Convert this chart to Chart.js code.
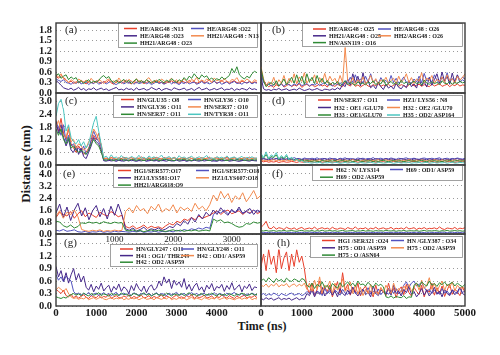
<!DOCTYPE html>
<html><head><meta charset="utf-8">
<script src="https://cdn.jsdelivr.net/npm/chart.js@4"></script>
<style>
body{margin:0;background:#fff;}
#wrap{position:relative;width:500px;height:355px;overflow:hidden;background:#fff;}
#wrap canvas{position:absolute;}
.ttl{position:absolute;font-family:"Liberation Serif",serif;font-weight:bold;color:#1a1a1a;white-space:nowrap;text-align:center;}
</style></head><body>
<div id="wrap">
<div class="ttl" style="left:-34px;top:156px;width:120px;font-size:13px;transform:rotate(-90deg);">Distance (nm)</div>
<div class="ttl" style="left:212px;top:319px;width:100px;font-size:12px;">Time (ns)</div>
</div>
<script>
const timeStepNs = 62.5;
const RED='#e8402c', BLUE='#5252bf', PURPLE='#46288a', ORANGE='#f38a4e', GREEN='#2f8a35', TEAL='#4cc6c0';

// ---------- panel (a)
const aLabels = ['HE/ARG48 :N13','HE/ARG48 :O22','HE/ARG48 :O23','HH21/ARG48 : N13','HH21/ARG48 : O23'];
const aRed = [0.48,0.42,0.50,0.44,0.38,0.30,0.34,0.27,0.32,0.29,0.36,0.31,0.26,0.33,0.30,0.28,0.35,0.31,0.27,0.33,
0.30,0.36,0.29,0.25,0.32,0.34,0.28,0.31,0.37,0.30,0.26,0.33,0.29,0.35,0.31,0.27,0.30,0.34,0.28,0.32,
0.36,0.29,0.31,0.26,0.33,0.30,0.35,0.28,0.32,0.27,0.34,0.31,0.29,0.36,0.30,0.33,0.27,0.31,0.35,0.29,
0.32,0.38,0.30,0.34,0.28,0.31,0.36,0.29,0.33,0.27,0.32,0.35,0.30,0.28,0.34,0.31,0.29,0.33,0.27,0.32,0.30];
const aBlue = [0.40,0.36,0.33,0.38,0.30,0.28,0.25,0.31,0.27,0.33,0.26,0.29,0.32,0.24,0.30,0.27,0.33,0.25,0.29,0.31,
0.26,0.30,0.34,0.27,0.24,0.29,0.32,0.26,0.30,0.28,0.33,0.25,0.31,0.27,0.29,0.34,0.26,0.30,0.24,0.28,
0.32,0.27,0.30,0.25,0.29,0.33,0.26,0.31,0.28,0.24,0.30,0.27,0.32,0.26,0.29,0.31,0.25,0.28,0.33,0.27,
0.30,0.26,0.29,0.34,0.27,0.31,0.25,0.28,0.32,0.26,0.30,0.33,0.27,0.29,0.25,0.31,0.28,0.32,0.26,0.30,0.28];
const aPurple = [0.35,0.30,0.22,0.15,0.12,0.10,0.14,0.08,0.11,0.16,0.09,0.13,0.07,0.12,0.10,0.15,0.08,0.11,0.14,0.09,
0.12,0.07,0.10,0.13,0.16,0.09,0.11,0.08,0.14,0.10,0.12,0.07,0.15,0.09,0.11,0.13,0.08,0.10,0.16,0.12,
0.09,0.14,0.07,0.11,0.13,0.10,0.08,0.15,0.12,0.09,0.11,0.14,0.08,0.10,0.13,0.07,0.12,0.16,0.09,0.11,
0.14,0.08,0.10,0.13,0.09,0.12,0.15,0.08,0.11,0.10,0.14,0.07,0.12,0.09,0.13,0.11,0.08,0.15,0.10,0.12,0.09];
const aOrange = [0.52,0.46,0.55,0.41,0.36,0.30,0.38,0.33,0.28,0.40,0.35,0.31,0.37,0.29,0.42,0.33,0.30,0.38,0.34,0.27,
0.36,0.40,0.31,0.35,0.29,0.43,0.33,0.37,0.30,0.39,0.34,0.28,0.41,0.32,0.36,0.30,0.38,0.44,0.33,0.29,
0.37,0.31,0.40,0.35,0.28,0.36,0.42,0.32,0.38,0.30,0.35,0.41,0.33,0.29,0.39,0.34,0.45,0.31,0.37,0.33,
0.40,0.36,0.30,0.43,0.35,0.38,0.32,0.41,0.34,0.30,0.39,0.36,0.44,0.31,0.37,0.33,0.40,0.35,0.29,0.38,0.34];
const aGreen = [0.50,0.55,0.42,0.48,0.52,0.38,0.46,0.40,0.44,0.30,0.35,0.27,0.33,0.38,0.29,0.34,0.31,0.36,0.45,0.50,
0.42,0.47,0.35,0.30,0.37,0.28,0.33,0.39,0.31,0.36,0.27,0.34,0.40,0.30,0.35,0.29,0.38,0.33,0.28,0.36,
0.31,0.39,0.34,0.29,0.37,0.32,0.41,0.35,0.30,0.38,0.33,0.44,0.36,0.48,0.42,0.55,0.46,0.40,0.52,0.45,
0.49,0.38,0.43,0.35,0.41,0.37,0.46,0.39,0.44,0.50,0.70,0.58,0.75,0.52,0.45,0.40,0.48,0.43,0.55,0.62,0.58];

// ---------- panel (b)
const bLabels = ['HE/ARG48 : O25','HE/ARG48 : O26','HH21/ARG48 : O25','HH2/ARG48 : O26','HN/ASN119 : O16'];
const bRed = [0.60,0.35,0.25,0.18,0.22,0.16,0.24,0.19,0.28,0.17,0.21,0.26,0.18,0.23,0.20,0.27,0.16,0.22,0.25,0.19,
0.24,0.18,0.21,0.26,0.20,0.23,0.17,0.28,0.22,0.19,0.25,0.21,0.18,0.30,0.24,0.20,0.27,0.19,0.23,0.17,
0.22,0.26,0.20,0.18,0.24,0.21,0.27,0.19,0.23,0.20,0.25,0.18,0.22,0.26,0.19,0.24,0.21,0.17,0.23,0.28,
0.20,0.22,0.25,0.19,0.24,0.21,0.18,0.26,0.20,0.23,0.27,0.19,0.22,0.25,0.18,0.24,0.21,0.26,0.20,0.23,0.22];
const bBlue = [0.55,0.30,0.22,0.26,0.20,0.24,0.28,0.21,0.25,0.19,0.27,0.23,0.20,0.26,0.22,0.29,0.21,0.24,0.27,0.20,
0.25,0.23,0.28,0.21,0.26,0.30,0.22,0.25,0.20,0.27,0.24,0.29,0.22,0.35,0.28,0.45,0.30,0.52,0.33,0.40,
0.28,0.48,0.31,0.55,0.29,0.38,0.26,0.44,0.32,0.36,0.27,0.50,0.30,0.42,0.28,0.35,0.46,0.30,0.33,0.27,
0.40,0.31,0.48,0.29,0.56,0.34,0.43,0.30,0.52,0.36,0.28,0.45,0.33,0.58,0.31,0.41,0.35,0.50,0.30,0.38,0.32];
const bPurple = [0.45,0.12,0.08,0.10,0.07,0.11,0.09,0.13,0.08,0.10,0.12,0.07,0.09,0.11,0.08,0.14,0.10,0.07,0.09,0.12,
0.08,0.10,0.13,0.09,0.07,0.11,0.10,0.08,0.12,0.09,0.15,0.10,0.25,0.18,0.40,0.22,0.55,0.30,0.48,0.20,
0.58,0.26,0.35,0.15,0.22,0.12,0.30,0.18,0.10,0.25,0.14,0.20,0.11,0.28,0.16,0.12,0.22,0.15,0.35,0.18,
0.26,0.14,0.40,0.20,0.32,0.17,0.45,0.22,0.38,0.55,0.28,0.60,0.33,0.48,0.25,0.57,0.30,0.52,0.36,0.45,0.40];
const bOrange = [0.75,0.40,0.20,0.32,0.25,0.45,0.22,0.38,0.28,0.50,0.24,0.42,0.30,0.55,0.26,0.46,0.33,0.58,0.28,0.40,
0.35,0.52,0.27,0.44,0.31,0.56,0.29,0.48,0.34,0.42,0.26,0.50,0.30,1.30,0.36,0.28,0.44,0.25,0.38,0.30,
0.46,0.27,0.35,0.50,0.29,0.41,0.24,0.38,0.32,0.45,0.28,0.36,0.42,0.26,0.48,0.31,0.39,0.55,0.30,0.44,
0.27,0.40,0.34,0.58,0.29,0.43,0.36,0.50,0.28,0.39,0.33,0.46,0.30,0.52,0.35,0.41,0.28,0.48,0.37,0.44,0.55];
const bGreen = [0.70,0.35,0.18,0.25,0.30,0.22,0.35,0.20,0.28,0.40,0.24,0.33,0.45,0.28,0.52,0.30,0.48,0.25,0.55,0.32,
0.45,0.27,0.50,0.30,0.42,0.26,0.36,0.22,0.30,0.25,0.33,0.21,0.28,0.35,0.24,0.30,0.27,0.22,0.32,0.26,
0.29,0.23,0.31,0.27,0.35,0.24,0.30,0.26,0.38,0.22,0.28,0.33,0.25,0.30,0.23,0.36,0.27,0.31,0.24,0.29,
0.34,0.26,0.30,0.23,0.37,0.28,0.25,0.32,0.27,0.30,0.24,0.35,0.28,0.26,0.33,0.25,0.30,0.27,0.34,0.29,0.31];

// ---------- panel (c)
const cLabels = ['HN/GLU35 : O8','HN/GLY36 : O10','HN/GLY36 : O11','HN/SER37 : O10','HN/SER37 : O11','HN/TYR38 : O11'];
const cRed = [1.90,1.60,2.20,1.50,1.20,1.70,1.00,0.80,0.60,0.90,0.70,0.50,0.60,0.80,1.10,1.40,1.20,1.50,0.80,
0.30,0.33,0.28,0.36,0.31,0.27,0.34,0.30,0.37,0.29,0.32,0.35,0.28,0.33,0.30,0.38,0.29,0.31,0.34,0.27,
0.32,0.36,0.30,0.28,0.35,0.31,0.33,0.29,0.37,0.30,0.27,0.34,0.32,0.29,0.36,0.31,0.28,0.33,0.30,0.35,
0.29,0.32,0.37,0.28,0.31,0.34,0.30,0.27,0.33,0.36,0.29,0.31,0.35,0.28,0.32,0.30,0.34,0.29,0.37,0.31,0.33,0.30];
const cBlue = [2.00,1.80,1.40,1.90,1.10,1.40,0.90,1.00,0.70,0.80,0.60,0.90,0.50,0.70,1.20,1.60,1.30,1.10,0.90,
0.22,0.25,0.20,0.24,0.27,0.21,0.23,0.19,0.26,0.22,0.24,0.20,0.25,0.23,0.21,0.27,0.22,0.19,0.24,0.26,
0.21,0.23,0.25,0.20,0.22,0.26,0.24,0.21,0.19,0.23,0.25,0.22,0.27,0.20,0.24,0.21,0.23,0.26,0.22,0.20,
0.25,0.23,0.21,0.24,0.19,0.22,0.26,0.23,0.20,0.25,0.22,0.24,0.21,0.27,0.23,0.20,0.24,0.22,0.25,0.21,0.23,0.22];
const cPurple = [2.10,1.50,1.90,1.30,0.90,1.20,0.70,0.60,0.90,0.50,0.80,0.40,0.30,0.60,0.90,1.30,1.10,1.00,0.70,
0.20,0.18,0.22,0.19,0.21,0.17,0.23,0.20,0.18,0.22,0.19,0.24,0.20,0.17,0.21,0.19,0.23,0.18,0.20,0.22,
0.19,0.21,0.17,0.23,0.20,0.18,0.22,0.19,0.21,0.24,0.18,0.20,0.22,0.17,0.21,0.19,0.23,0.20,0.18,0.22,
0.19,0.21,0.24,0.18,0.20,0.17,0.22,0.19,0.21,0.23,0.18,0.20,0.22,0.19,0.17,0.21,0.23,0.20,0.18,0.22,0.20,0.19];
const cOrange = [1.80,2.10,1.60,1.40,1.30,1.80,1.10,1.20,0.80,1.00,0.90,0.70,0.80,1.10,1.30,1.70,1.50,1.20,1.00,
0.28,0.31,0.26,0.33,0.29,0.27,0.32,0.25,0.30,0.34,0.28,0.26,0.31,0.29,0.33,0.27,0.30,0.25,0.32,0.28,
0.35,0.29,0.27,0.31,0.26,0.33,0.30,0.28,0.32,0.27,0.29,0.34,0.26,0.31,0.28,0.30,0.33,0.27,0.29,0.25,
0.32,0.28,0.31,0.26,0.34,0.29,0.27,0.30,0.33,0.28,0.26,0.31,0.29,0.32,0.27,0.30,0.35,0.28,0.26,0.31,0.29,0.30];
const cGreen = [1.70,1.40,1.70,1.20,1.00,1.30,0.80,0.90,0.70,0.60,0.70,0.60,0.50,0.70,1.00,1.20,1.00,0.90,0.60,
0.25,0.22,0.27,0.24,0.21,0.26,0.23,0.28,0.22,0.25,0.20,0.27,0.24,0.22,0.26,0.23,0.21,0.25,0.28,0.22,
0.24,0.26,0.21,0.23,0.27,0.25,0.22,0.24,0.20,0.26,0.23,0.25,0.28,0.22,0.24,0.21,0.26,0.23,0.25,0.22,
0.27,0.24,0.21,0.23,0.26,0.22,0.25,0.28,0.23,0.21,0.24,0.26,0.22,0.25,0.23,0.27,0.21,0.24,0.22,0.26,0.23,0.25];
const cTeal = [2.30,2.90,3.10,2.60,1.60,1.90,1.30,1.10,1.00,1.20,0.90,1.10,0.80,1.00,1.50,2.00,2.30,1.60,0.95,
0.35,0.42,0.30,0.48,0.33,0.38,0.28,0.45,0.32,0.36,0.29,0.41,0.34,0.30,0.46,0.31,0.37,0.28,0.43,0.33,
0.39,0.30,0.35,0.47,0.29,0.34,0.40,0.31,0.36,0.28,0.44,0.32,0.38,0.30,0.35,0.42,0.29,0.33,0.39,0.31,
0.36,0.45,0.30,0.34,0.28,0.40,0.33,0.37,0.29,0.43,0.31,0.35,0.38,0.30,0.34,0.41,0.29,0.36,0.32,0.39,0.31,0.34];

// ---------- panel (d)
const dLabels = ['HN/SER37 : O11','HZ1/ LYS56 : N8','H32 : OE1 /GLU70','H32 : OE2 /GLU70','H33 : OE1/GLU70','H35 : OD2/ ASP164'];
const dRed = [0.20,0.15,0.18,0.13,0.16,0.14,0.17,0.12,0.15,0.16,0.13,0.14,0.17,0.15,0.12,0.16,0.14,0.13,0.15,0.17,
0.14,0.12,0.16,0.15,0.13,0.14,0.17,0.15,0.12,0.16,0.14,0.13,0.15,0.16,0.14,0.12,0.15,0.17,0.13,0.14,
0.16,0.15,0.12,0.14,0.17,0.13,0.15,0.14,0.16,0.12,0.15,0.13,0.17,0.14,0.15,0.12,0.16,0.14,0.13,0.15,
0.17,0.14,0.12,0.16,0.15,0.13,0.14,0.16,0.15,0.12,0.14,0.17,0.13,0.15,0.16,0.14,0.12,0.15,0.14,0.16,0.13];
const dBlue = [0.28,0.32,0.26,0.30,0.34,0.27,0.31,0.29,0.33,0.26,0.30,0.32,0.28,0.35,0.29,0.31,0.27,0.33,0.30,0.28,
0.32,0.29,0.34,0.27,0.31,0.30,0.28,0.33,0.29,0.31,0.26,0.32,0.30,0.34,0.28,0.31,0.29,0.27,0.33,0.30,
0.32,0.28,0.31,0.29,0.35,0.27,0.30,0.32,0.28,0.31,0.29,0.33,0.30,0.27,0.32,0.29,0.31,0.34,0.28,0.30,
0.32,0.29,0.27,0.31,0.33,0.30,0.28,0.32,0.29,0.31,0.34,0.27,0.30,0.32,0.28,0.31,0.29,0.33,0.30,0.28,0.31];
const dPurple = [0.25,0.29,0.27,0.24,0.28,0.26,0.30,0.25,0.27,0.29,0.24,0.28,0.26,0.25,0.30,0.27,0.24,0.28,0.26,0.29,
0.25,0.27,0.24,0.28,0.26,0.30,0.25,0.27,0.29,0.24,0.26,0.28,0.25,0.27,0.30,0.24,0.28,0.26,0.25,0.29,
0.27,0.24,0.26,0.28,0.25,0.30,0.27,0.24,0.26,0.29,0.25,0.28,0.27,0.24,0.26,0.30,0.25,0.27,0.28,0.24,
0.29,0.26,0.25,0.28,0.27,0.24,0.30,0.26,0.25,0.28,0.27,0.24,0.29,0.26,0.25,0.28,0.27,0.30,0.25,0.26,0.28];
const dOrange = [0.24,0.21,0.23,0.20,0.22,0.25,0.21,0.23,0.19,0.22,0.24,0.20,0.23,0.21,0.22,0.25,0.20,0.22,0.24,0.21,
0.23,0.20,0.22,0.24,0.21,0.19,0.23,0.22,0.25,0.20,0.22,0.24,0.21,0.23,0.20,0.22,0.25,0.21,0.23,0.19,
0.22,0.24,0.20,0.23,0.21,0.22,0.25,0.20,0.22,0.24,0.21,0.23,0.19,0.22,0.24,0.20,0.23,0.21,0.25,0.22,
0.20,0.23,0.21,0.24,0.22,0.19,0.23,0.21,0.25,0.22,0.20,0.24,0.21,0.23,0.22,0.20,0.24,0.21,0.23,0.22,0.21];
const dGreen = [0.45,0.32,0.50,0.28,0.40,0.35,0.48,0.26,0.38,0.30,0.42,0.25,0.33,0.22,0.28,0.20,0.24,0.18,0.21,0.19,
0.17,0.20,0.18,0.16,0.21,0.19,0.17,0.20,0.18,0.22,0.16,0.19,0.21,0.17,0.18,0.20,0.16,0.19,0.22,0.18,
0.17,0.20,0.18,0.21,0.16,0.19,0.17,0.20,0.22,0.18,0.16,0.19,0.21,0.17,0.20,0.18,0.16,0.19,0.21,0.18,
0.20,0.17,0.19,0.22,0.18,0.16,0.20,0.18,0.21,0.17,0.19,0.16,0.20,0.18,0.22,0.17,0.19,0.21,0.18,0.20,0.17];
const dTeal = [0.55,0.35,0.62,0.30,0.48,0.40,0.58,0.28,0.45,0.33,0.50,0.25,0.38,0.20,0.30,0.15,0.22,0.12,0.14,0.11,
0.09,0.12,0.10,0.13,0.08,0.11,0.10,0.12,0.09,0.13,0.11,0.08,0.10,0.12,0.09,0.11,0.13,0.10,0.08,0.12,
0.10,0.09,0.11,0.13,0.10,0.08,0.12,0.11,0.09,0.10,0.13,0.11,0.08,0.10,0.12,0.09,0.11,0.10,0.13,0.08,
0.11,0.10,0.12,0.09,0.11,0.13,0.08,0.10,0.12,0.09,0.11,0.10,0.12,0.08,0.11,0.13,0.09,0.10,0.12,0.11,0.09];

// ---------- panel (e)  (0 - 3500 ns)
const eLabels = ['HG1/SER577:O17','HG1/SER577:O18','HZ1/LYS581:O17','HZ1/LYS607:O18','HH21/ARG618:O9'];
const eRed = [1.10,1.45,1.30,1.20,1.50,1.05,1.35,1.55,1.15,1.40,1.25,1.10,1.45,1.30,1.20,1.50,1.35,1.15,1.25,0.50,
0.40,0.55,0.35,0.45,0.60,0.38,0.52,0.42,0.48,0.36,0.55,0.70,0.60,0.85,0.75,1.00,0.90,1.10,0.95,1.20,
1.05,1.15,1.25,1.40,1.55,1.30,1.50,1.60,1.35,1.45,1.55,1.30,1.50,1.40,1.60,1.35,1.50];
const eBlue = [0.25,0.20,0.30,0.18,0.22,0.28,0.15,0.12,0.18,0.10,0.15,0.13,0.20,0.11,0.16,0.12,0.19,0.14,0.17,0.15,
0.12,0.18,0.14,0.20,0.11,0.16,0.13,0.19,0.12,0.17,0.15,0.20,0.14,0.25,0.18,0.30,0.22,0.35,0.28,0.40,
0.32,0.45,0.38,1.30,1.50,1.40,1.60,1.35,1.55,1.45,1.65,1.40,1.50,1.35,1.60,1.45,1.55];
const ePurple = [1.40,2.00,1.10,1.80,0.90,1.60,2.05,1.20,1.75,0.95,1.55,1.90,1.15,1.70,1.00,1.85,1.25,2.00,1.30,0.35,
0.25,0.40,0.20,0.30,0.45,0.22,0.35,0.28,0.40,0.25,0.33,0.50,0.42,0.70,0.55,0.90,0.65,1.10,0.80,1.30,
1.00,1.45,1.20,1.60,1.30,1.75,1.45,1.25,1.65,1.40,1.80,1.35,1.55,1.70,1.30,1.60,1.45];
const eOrange = [1.20,1.55,1.05,1.45,1.30,1.60,1.15,0.30,0.22,0.18,0.25,0.20,0.28,0.17,0.23,0.19,0.26,0.21,0.24,1.50,
1.75,1.40,1.90,1.55,1.70,1.35,1.85,1.60,2.00,1.45,1.70,1.55,1.95,1.40,1.80,1.60,1.75,1.50,2.05,1.65,
1.85,1.55,1.95,2.60,2.20,2.85,2.40,2.70,2.10,2.55,2.30,2.75,2.15,2.50,2.90,2.35,2.60];
const eGreen = [0.85,0.80,0.55,0.45,0.60,0.40,0.50,0.75,0.70,0.80,0.72,0.78,0.68,0.82,0.74,0.70,0.79,0.73,0.76,0.25,
0.20,0.28,0.18,0.24,0.15,0.22,0.27,0.19,0.25,0.21,0.17,0.23,0.28,0.20,0.26,0.18,0.24,0.21,0.27,0.19,
0.23,0.26,0.20,1.00,0.85,0.95,0.75,0.80,0.70,0.55,0.45,0.50,0.70,0.65,0.80,0.72,0.78];

// ---------- panel (f)
const fLabels = ['H62 : N/ LYS314','H69 : OD1/ ASP59','H69 : OD2 /ASP59'];
const fRed = [0.45,0.60,0.85,0.40,0.35,0.50,0.32,0.42,0.38,0.30,0.45,0.36,0.33,0.41,0.29,0.38,0.44,0.31,0.36,0.40,
0.33,0.47,0.30,0.37,0.42,0.34,0.39,0.31,0.45,0.35,0.32,0.40,0.37,0.30,0.43,0.36,0.33,0.48,0.31,0.38,
0.35,0.42,0.30,0.39,0.34,0.45,0.32,0.37,0.41,0.33,0.36,0.44,0.31,0.38,0.35,0.40,0.32,0.46,0.34,0.37,
0.42,0.30,0.39,0.35,0.43,0.32,0.38,0.36,0.41,0.33,0.47,0.35,0.30,0.40,0.37,0.34,0.44,0.31,0.39,0.36,0.42];
const fBlue = [0.12,0.10,0.11,0.09,0.12,0.10,0.08,0.11,0.10,0.12,0.09,0.11,0.10,0.08,0.12,0.10,0.11,0.09,0.10,0.12,
0.11,0.09,0.10,0.12,0.08,0.11,0.10,0.09,0.12,0.10,0.11,0.08,0.10,0.12,0.09,0.11,0.10,0.12,0.09,0.10,
0.11,0.08,0.12,0.10,0.09,0.11,0.10,0.12,0.08,0.11,0.10,0.09,0.12,0.10,0.11,0.09,0.10,0.12,0.08,0.11,
0.10,0.12,0.09,0.11,0.10,0.08,0.12,0.10,0.11,0.09,0.10,0.12,0.11,0.08,0.10,0.12,0.09,0.11,0.10,0.12,0.10];
const fGreen = [0.22,0.20,0.24,0.19,0.21,0.23,0.18,0.22,0.20,0.25,0.19,0.21,0.23,0.20,0.18,0.22,0.24,0.19,0.21,0.20,
0.23,0.18,0.22,0.20,0.25,0.19,0.21,0.23,0.20,0.22,0.18,0.21,0.24,0.19,0.20,0.22,0.23,0.18,0.21,0.20,
0.24,0.19,0.22,0.21,0.18,0.23,0.20,0.22,0.19,0.25,0.21,0.20,0.23,0.18,0.22,0.20,0.24,0.19,0.21,0.22,
0.20,0.23,0.18,0.21,0.24,0.19,0.22,0.20,0.23,0.21,0.18,0.22,0.20,0.24,0.19,0.21,0.23,0.20,0.22,0.19,0.21];

// ---------- panel (g)
const gLabels = ['HN/GLY247 : O11','HN/GLY248 : O11','H41 : OG1/ THR249','H42 : OD1/ ASP59','H42 : OD2 /ASP59'];
const gRed = [0.40,0.35,0.30,0.38,0.25,0.22,0.28,0.20,0.24,0.19,0.23,0.27,0.21,0.18,0.25,0.22,0.20,0.26,0.19,0.23,
0.21,0.28,0.18,0.22,0.25,0.20,0.19,0.24,0.21,0.27,0.18,0.23,0.20,0.22,0.26,0.19,0.21,0.25,0.18,0.23,
0.20,0.22,0.27,0.19,0.24,0.21,0.18,0.23,0.26,0.20,0.22,0.19,0.25,0.21,0.28,0.18,0.23,0.20,0.22,0.26,
0.19,0.21,0.24,0.18,0.23,0.20,0.27,0.22,0.19,0.25,0.21,0.18,0.24,0.20,0.23,0.26,0.19,0.22,0.21,0.25,0.20];
const gBlue = [0.75,0.62,0.70,0.58,0.72,0.65,0.60,0.35,0.28,0.31,0.26,0.30,0.27,0.33,0.25,0.29,0.31,0.26,0.28,0.32,
0.27,0.30,0.25,0.29,0.33,0.26,0.28,0.31,0.27,0.30,0.25,0.32,0.28,0.26,0.30,0.29,0.27,0.31,0.25,0.28,
0.32,0.26,0.30,0.28,0.25,0.31,0.27,0.29,0.33,0.26,0.28,0.30,0.25,0.29,0.32,0.27,0.30,0.26,0.28,0.31,
0.25,0.29,0.27,0.32,0.26,0.30,0.28,0.25,0.31,0.27,0.29,0.33,0.26,0.28,0.30,0.25,0.29,0.27,0.31,0.28,0.26];
const gPurple = [0.95,0.70,0.85,0.60,0.80,0.55,0.75,0.90,0.62,0.78,0.58,0.72,0.45,0.38,0.52,0.34,0.48,0.40,0.55,0.36,
0.44,0.50,0.33,0.47,0.39,0.53,0.35,0.46,0.41,0.30,0.49,0.37,0.54,0.42,0.35,0.48,0.32,0.45,0.51,0.38,
0.43,0.60,0.48,0.70,0.55,0.65,0.42,0.62,0.50,0.58,0.45,0.66,0.40,0.52,0.36,0.48,0.55,0.38,0.46,0.33,
0.50,0.41,0.54,0.36,0.47,0.43,0.52,0.35,0.49,0.40,0.56,0.38,0.45,0.51,0.34,0.48,0.42,0.53,0.37,0.46,0.44];
const gOrange = [0.38,0.45,0.40,0.35,0.42,0.30,0.22,0.18,0.20,0.16,0.19,0.17,0.21,0.15,0.18,0.20,0.16,0.19,0.22,0.17,
0.15,0.18,0.20,0.16,0.19,0.17,0.21,0.15,0.18,0.16,0.20,0.17,0.19,0.15,0.18,0.21,0.16,0.17,0.19,0.15,
0.20,0.18,0.16,0.19,0.17,0.22,0.15,0.18,0.16,0.20,0.17,0.19,0.15,0.18,0.21,0.16,0.19,0.17,0.15,0.20,
0.18,0.16,0.19,0.17,0.21,0.15,0.18,0.20,0.16,0.19,0.17,0.15,0.18,0.20,0.16,0.19,0.17,0.22,0.15,0.18,0.17];
const gGreen = [0.22,0.20,0.18,0.21,0.19,0.24,0.27,0.30,0.26,0.29,0.25,0.31,0.27,0.24,0.30,0.26,0.28,0.32,0.25,0.29,
0.27,0.24,0.30,0.26,0.28,0.25,0.31,0.27,0.29,0.24,0.26,0.30,0.28,0.25,0.27,0.32,0.26,0.29,0.24,0.28,
0.30,0.26,0.27,0.25,0.31,0.28,0.24,0.29,0.27,0.26,0.30,0.25,0.28,0.32,0.26,0.29,0.24,0.27,0.30,0.25,
0.28,0.26,0.31,0.27,0.24,0.29,0.26,0.28,0.25,0.30,0.27,0.24,0.29,0.26,0.31,0.28,0.25,0.27,0.30,0.26,0.28];

// ---------- panel (h)
const hLabels = ['HG1 /SER321 :O24','HN /GLY387 : O34','H75 : OD1 /ASP59','H75 : OD2 /ASP59','H75 : O /ASN64'];
const hRed = [0.95,1.25,0.85,1.35,1.00,1.20,0.80,1.40,0.90,1.15,1.30,0.85,1.25,0.95,1.35,1.05,1.20,0.90,0.45,0.30,
0.55,0.25,0.40,0.60,0.28,0.45,0.35,0.50,0.22,0.42,0.58,0.30,0.80,0.38,0.52,0.26,0.44,0.33,0.55,0.24,
0.40,0.48,0.30,0.36,0.22,0.50,0.28,0.43,0.35,0.25,0.55,0.30,0.42,0.20,0.38,0.46,0.27,0.52,0.32,0.24,
0.45,0.35,0.28,0.50,0.22,0.40,0.33,0.55,0.26,0.44,0.30,0.48,0.23,0.38,0.52,0.28,0.41,0.34,0.25,0.46,0.32];
const hBlue = [0.27,0.30,0.25,0.29,0.26,0.31,0.28,0.24,0.30,0.27,0.25,0.29,0.31,0.26,0.28,0.30,0.25,0.28,0.35,0.30,
0.40,0.28,0.36,0.32,0.25,0.42,0.30,0.35,0.27,0.38,0.33,0.26,0.40,0.31,0.28,0.36,0.45,0.30,0.34,0.27,
0.39,0.32,0.44,0.29,0.36,0.30,0.41,0.27,0.35,0.33,0.28,0.38,0.31,0.42,0.29,0.36,0.50,0.58,0.45,0.55,
0.60,0.48,0.52,0.56,0.45,0.35,0.40,0.30,0.38,0.33,0.28,0.42,0.31,0.36,0.27,0.39,0.34,0.30,0.44,0.32,0.37];
const hPurple = [0.18,0.15,0.20,0.16,0.19,0.14,0.17,0.20,0.15,0.18,0.16,0.19,0.14,0.17,0.20,0.15,0.18,0.16,0.30,0.25,
0.38,0.22,0.35,0.28,0.45,0.24,0.32,0.40,0.26,0.36,0.22,0.42,0.30,0.25,0.38,0.28,0.45,0.32,0.24,0.36,
0.40,0.27,0.33,0.22,0.48,0.30,0.25,0.38,0.35,0.28,0.42,0.26,0.50,0.30,0.36,0.24,0.40,0.32,0.46,0.28,
0.35,0.22,0.30,0.42,0.26,0.38,0.24,0.33,0.45,0.28,0.36,0.22,0.40,0.30,0.25,0.38,0.27,0.34,0.45,0.30,0.26];
const hOrange = [0.50,0.47,0.53,0.45,0.52,0.48,0.55,0.46,0.51,0.49,0.54,0.45,0.50,0.53,0.47,0.52,0.48,0.55,0.40,0.55,
0.35,0.62,0.40,0.70,0.32,0.50,0.45,0.60,0.30,0.55,0.38,0.48,0.65,0.35,0.42,0.58,0.30,0.50,0.28,0.45,
0.25,0.40,0.30,0.52,0.26,0.35,0.28,0.45,0.32,0.50,0.38,0.30,0.55,0.36,0.42,0.33,0.48,0.40,0.52,0.35,
0.45,0.55,0.38,0.62,0.42,0.50,0.68,0.40,0.55,0.35,0.48,0.60,0.38,0.52,0.44,0.58,0.36,0.50,0.42,0.46,0.40];
const hGreen = [0.60,0.65,0.58,0.68,0.62,0.56,0.66,0.60,0.64,0.57,0.67,0.61,0.59,0.65,0.62,0.58,0.66,0.63,0.50,0.45,
0.55,0.42,0.52,0.47,0.58,0.44,0.50,0.40,0.54,0.48,0.43,0.56,0.46,0.52,0.58,0.49,0.55,0.47,0.60,0.51,
0.53,0.48,0.57,0.50,0.45,0.55,0.49,0.52,0.46,0.22,0.20,0.24,0.19,0.23,0.21,0.20,0.25,0.18,0.22,0.21,
0.50,0.55,0.46,0.58,0.52,0.48,0.60,0.50,0.54,0.47,0.56,0.51,0.58,0.49,0.53,0.57,0.48,0.55,0.50,0.46,0.52];

// tick values
const yTicksRow1 = [0,0.3,0.6,0.9,1.2,1.5,1.8];
const yTicksRow2 = [0,0.6,1.2,1.8,2.4,3.0];
const yTicksRow3 = [0,0.8,1.6,2.4,3.2,4.0];
const yTicksRow4 = [0,0.3,0.6,0.9,1.2,1.5];
const yMaxRows = [2.0, 3.4, 4.6, 1.73];
const xTicksLeft = [0,1000,2000,3000,4000];
const xTicksRight = [0,1000,2000,3000,4000,5000];
const xTicksE = [1000,2000,3000];

Chart.defaults.font.family = '"Liberation Serif", serif';

const deco = {
  id: 'deco',
  afterDatasetsDraw(chart, args, o) {
    const ctx = chart.ctx, a = chart.chartArea, ys = chart.scales.y;
    ctx.save();
    const L = o.legend;
    const bx = L.box[0]-o.ox, by = L.box[1]-o.oy, bw = L.box[2]-L.box[0], bh = L.box[3]-L.box[1];
    ctx.fillStyle = '#fff'; ctx.fillRect(bx, by, bw, bh);
    ctx.strokeStyle = '#8a8a8a'; ctx.lineWidth = 0.8; ctx.strokeRect(bx+0.5, by+0.5, bw-1, bh-1);
    ctx.font = 'bold 6px "Liberation Serif"'; ctx.textBaseline = 'middle'; ctx.textAlign = 'left';
    chart.data.datasets.forEach((ds, i) => {
      const col = i % 2, row = Math.floor(i / 2);
      const x = (col ? L.c2 : L.c1) - o.ox, y = L.r1 + row * L.rh - o.oy;
      ctx.strokeStyle = ds.borderColor; ctx.lineWidth = 1.5;
      ctx.beginPath(); ctx.moveTo(x, y); ctx.lineTo(x + 13, y); ctx.stroke();
      ctx.fillStyle = '#1a1a1a'; ctx.fillText(ds.label, x + 16, y + 0.5);
    });
    ctx.font = '11px "Liberation Serif"';
    const ly = ys.getPixelForValue(o.labelTick);
    const lx = o.labelX - o.ox;
    const tw = ctx.measureText(o.label).width;
    ctx.fillStyle = '#fff'; ctx.fillRect(lx - 2, ly - 6, tw + 4, 12);
    ctx.fillStyle = '#222'; ctx.fillText(o.label, lx, ly);
    ctx.strokeStyle = '#3a3a3a'; ctx.lineWidth = 1.4;
    ctx.strokeRect(a.left, a.top, a.right - a.left, a.bottom - a.top);
    ctx.restore();
  }
};

const wrap = document.getElementById('wrap');
function panel(p) {
  const pad = 16;
  const yW = p.showY ? 26 : 0;
  const xH = p.xTicks ? (p.xSmall ? 11 : 13) : 0;
  const w = (p.R - p.L) + yW + 2 * pad;
  const h = (p.B - p.T) + xH + 2 * pad;
  const ox = p.L - yW - pad, oy = p.T - pad;
  const c = document.createElement('canvas');
  c.width = w; c.height = h;
  c.style.left = ox + 'px'; c.style.top = oy + 'px';
  c.style.width = w + 'px'; c.style.height = h + 'px';
  wrap.appendChild(c);
  const n = p.series.length;
  new Chart(c, {
    type: 'line',
    data: {
      datasets: p.series.map((s, i) => ({
        label: p.labels[i],
        data: s.v.map((v, k) => ({x: k * timeStepNs, y: v})),
        borderColor: s.c, borderWidth: 1, pointRadius: 0, tension: 0, fill: false,
        order: n - 1 - i
      }))
    },
    options: {
      responsive: false, animation: false, devicePixelRatio: 1,
      layout: {padding: pad},
      plugins: {
        legend: {display: false}, tooltip: {enabled: false},
        deco: {legend: p.legend, label: p.label, labelX: p.labelX, labelTick: p.yTicks[p.yTicks.length - 1], ox, oy}
      },
      scales: {
        x: {
          type: 'linear', min: 0, max: p.xMax, display: !!p.xTicks,
          grid: {display: false, drawTicks: false}, border: {display: false},
          afterBuildTicks: s => { s.ticks = (p.xTicks || []).map(v => ({value: v})); },
          ticks: {
            autoSkip: false, maxRotation: 0, minRotation: 0, padding: p.xSmall ? 0 : 1,
            color: '#1a1a1a',
            font: p.xSmall ? {size: 9} : {size: 11, weight: 'bold'},
            callback: v => String(v)
          },
          afterFit: s => { s.height = xH; }
        },
        y: {
          type: 'linear', min: 0, max: p.yMax,
          grid: {color: '#9a9a9a', lineWidth: 1, drawTicks: false},
          border: {display: false, dash: [1, 3]},
          afterBuildTicks: s => { s.ticks = p.yTicks.map(v => ({value: v})); },
          ticks: {
            display: p.showY, autoSkip: false, padding: 4,
            color: '#1a1a1a', font: {size: 10.5, weight: 'bold'},
            callback: v => Number(v).toFixed(1)
          },
          afterFit: s => { s.width = yW; }
        }
      }
    },
    plugins: [deco]
  });
}

const LX = [56, 261], RX = [261, 465];
panel({L:LX[0], R:LX[1], T:23, B:93, showY:true, xMax:5100, yTicks:yTicksRow1, yMax:yMaxRows[0], label:'(a)', labelX:65, labels:aLabels,
  series:[{v:aRed,c:RED},{v:aBlue,c:BLUE},{v:aPurple,c:PURPLE},{v:aOrange,c:ORANGE},{v:aGreen,c:GREEN}],
  legend:{box:[118,23,258,48], r1:28.5, rh:7.3, c1:124, c2:191}});
panel({L:RX[0], R:RX[1], T:23, B:93, showY:false, xMax:5000, yTicks:yTicksRow1, yMax:yMaxRows[0], label:'(b)', labelX:272, labels:bLabels,
  series:[{v:bRed,c:RED},{v:bBlue,c:BLUE},{v:bPurple,c:PURPLE},{v:bOrange,c:ORANGE},{v:bGreen,c:GREEN}],
  legend:{box:[302,23,463,47], r1:29, rh:6.8, c1:313, c2:378}});
panel({L:LX[0], R:LX[1], T:93, B:165, showY:true, xMax:5100, yTicks:yTicksRow2, yMax:yMaxRows[1], label:'(c)', labelX:65, labels:cLabels,
  series:[{v:cRed,c:RED},{v:cBlue,c:BLUE},{v:cPurple,c:PURPLE},{v:cOrange,c:ORANGE},{v:cGreen,c:GREEN},{v:cTeal,c:TEAL}],
  legend:{box:[113,95,258,118], r1:99.5, rh:7.4, c1:121, c2:188}});
panel({L:RX[0], R:RX[1], T:93, B:165, showY:false, xMax:5000, yTicks:yTicksRow2, yMax:yMaxRows[1], label:'(d)', labelX:272, labels:dLabels,
  series:[{v:dRed,c:RED},{v:dBlue,c:BLUE},{v:dPurple,c:PURPLE},{v:dOrange,c:ORANGE},{v:dGreen,c:GREEN},{v:dTeal,c:TEAL}],
  legend:{box:[305,95,463,118], r1:100, rh:7.5, c1:318, c2:387}});
panel({L:LX[0], R:LX[1], T:165, B:234, showY:true, xMax:3500, xTicks:xTicksE, xSmall:true, yTicks:yTicksRow3, yMax:yMaxRows[2], label:'(e)', labelX:63, labels:eLabels,
  series:[{v:eRed,c:RED},{v:eBlue,c:BLUE},{v:ePurple,c:PURPLE},{v:eOrange,c:ORANGE},{v:eGreen,c:GREEN}],
  legend:{box:[113,166,258,188], r1:170.5, rh:7.3, c1:118, c2:196}});
panel({L:RX[0], R:RX[1], T:165, B:234, showY:false, xMax:5000, yTicks:yTicksRow3, yMax:yMaxRows[2], label:'(f)', labelX:272, labels:fLabels,
  series:[{v:fRed,c:RED},{v:fBlue,c:BLUE},{v:fGreen,c:GREEN}],
  legend:{box:[312,165,463,181], r1:169.5, rh:7.7, c1:320, c2:390}});
panel({L:LX[0], R:LX[1], T:234, B:306, showY:true, xMax:5100, xTicks:xTicksLeft, yTicks:yTicksRow4, yMax:yMaxRows[3], label:'(g)', labelX:64, labels:gLabels,
  series:[{v:gRed,c:RED},{v:gBlue,c:BLUE},{v:gPurple,c:PURPLE},{v:gOrange,c:ORANGE},{v:gGreen,c:GREEN}],
  legend:{box:[110,244,258,267], r1:249, rh:6.6, c1:120, c2:181}});
panel({L:RX[0], R:RX[1], T:234, B:306, showY:false, xMax:5000, xTicks:xTicksRight, yTicks:yTicksRow4, yMax:yMaxRows[3], label:'(h)', labelX:277, labels:hLabels,
  series:[{v:hRed,c:RED},{v:hBlue,c:BLUE},{v:hPurple,c:PURPLE},{v:hOrange,c:ORANGE},{v:hGreen,c:GREEN}],
  legend:{box:[310,236,463,258], r1:240.5, rh:7.3, c1:322, c2:391}});
</script>
</body></html>
